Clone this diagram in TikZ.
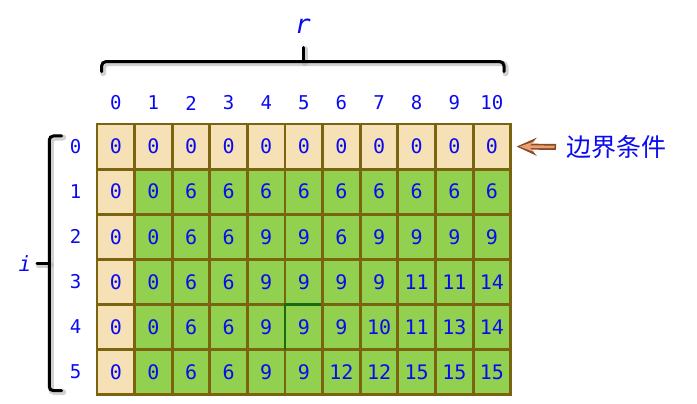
\documentclass[tikz,border=0pt]{standalone}
\usepackage{fontspec}
\setmonofont{DejaVu Sans Mono}
\newfontfamily\cjkfont{Noto Sans CJK SC}
\usetikzlibrary{arrows.meta}
\definecolor{tanc}{HTML}{F6E0B5}
\definecolor{greenc}{HTML}{92D050}
\definecolor{gridc}{HTML}{7A6410}
\definecolor{txt}{HTML}{0A0AF0}
\definecolor{hl}{HTML}{1A6B10}
\definecolor{arrowdark}{HTML}{8A4A28}
\definecolor{arrowlight}{HTML}{E8A070}
\begin{document}
\begin{tikzpicture}[x=1pt,y=-1pt,
  cell/.style={draw=gridc, line width=2.8pt, minimum width=37.61pt, minimum height=45.1pt,
    inner sep=0pt, outer sep=0pt, font=\ttfamily\fontsize{20}{20}\selectfont, text=txt},
  idx/.style={font=\ttfamily\fontsize{19}{19}\selectfont, text=txt, inner sep=0pt},
  brace/.style={line width=3pt, rounded corners=4pt, line cap=round, draw=black},
  braceshadow/.style={line width=6pt, rounded corners=4pt, line cap=round, draw=black!30, opacity=0.6}
]
\useasboundingbox (0,0) rectangle (697,404);

% grid
\foreach \vals [count=\i from 0] in {
  {0,0,0,0,0,0,0,0,0,0,0},
  {0,0,6,6,6,6,6,6,6,6,6},
  {0,0,6,6,9,9,6,9,9,9,9},
  {0,0,6,6,9,9,9,9,11,11,14},
  {0,0,6,6,9,9,9,10,11,13,14},
  {0,0,6,6,9,9,12,12,15,15,15}} {
  \foreach \v [count=\j from 0] in \vals {
    \ifnum\i=0 \def\fc{tanc}\else\ifnum\j=0 \def\fc{tanc}\else\def\fc{greenc}\fi\fi
    \node[cell, fill=\fc] (c-\i-\j) at ({97+37.61*(\j+0.5)},{124+45.1*(\i+0.5)}) {\v};
  }
}
% highlighted edges
\draw[hl, line width=2.2pt] (c-4-5.south west) -- (c-4-5.north west) -- ([xshift=-2pt]c-4-5.north east);

% column and row indices
\foreach \j in {0,...,10}
  \node[idx] (col-\j) at ({97+37.61*(\j+0.5)},103) {\j};
\foreach \i in {0,...,5}
  \node[idx] (row-\i) at (75.5,{124+45.1*(\i+0.5)}) {\i};

% top brace
\begin{scope}[shift={(1.5,1.5)}]
  \draw[braceshadow] (101.7,71.7) -- (101.7,61.7) -- (504,61.7) -- (504,71.7);
  \draw[braceshadow] (303.3,61.7) -- (303.3,47.5);
\end{scope}
\draw[brace] (101.7,71.7) -- (101.7,61.7) -- (504,61.7) -- (504,71.7);
\draw[brace] (303.3,61.7) -- (303.3,47.5);
\node[font=\ttfamily\itshape\fontsize{26}{26}\selectfont, text=txt, inner sep=0pt] (rlab) at (303,26) {r};

% left brace
\begin{scope}[shift={(1.5,1.5)}]
  \draw[braceshadow] (61.7,136) -- (49.3,136) -- (49.3,390.7) -- (61.7,390.7);
  \draw[braceshadow] (49.3,263.3) -- (37,263.3);
\end{scope}
\draw[brace] (61.7,136) -- (49.3,136) -- (49.3,390.7) -- (61.7,390.7);
\draw[brace] (49.3,263.3) -- (37,263.3);
\node[font=\ttfamily\itshape\fontsize{21}{21}\selectfont, text=txt, inner sep=0pt] (ilab) at (25,264) {i};

% boundary label and arrow
\node[font=\cjkfont\fontsize{25}{25}\selectfont, text=txt, anchor=west, inner sep=0pt] (bc) at (566,147) {边界条件};
\coordinate (tip) at ([xshift=6pt]c-0-10.east);
\draw[arrowdark, line width=6pt, shorten <=10pt, -{Stealth[length=20pt,width=18pt,inset=8pt]}] (bc.west) -- (tip);
\draw[arrowlight, line width=2.6pt, shorten <=11.5pt, shorten >=3pt, -{Stealth[length=15pt,width=11pt,inset=6pt]}] (bc.west) -- (tip);
\end{tikzpicture}
\end{document}
